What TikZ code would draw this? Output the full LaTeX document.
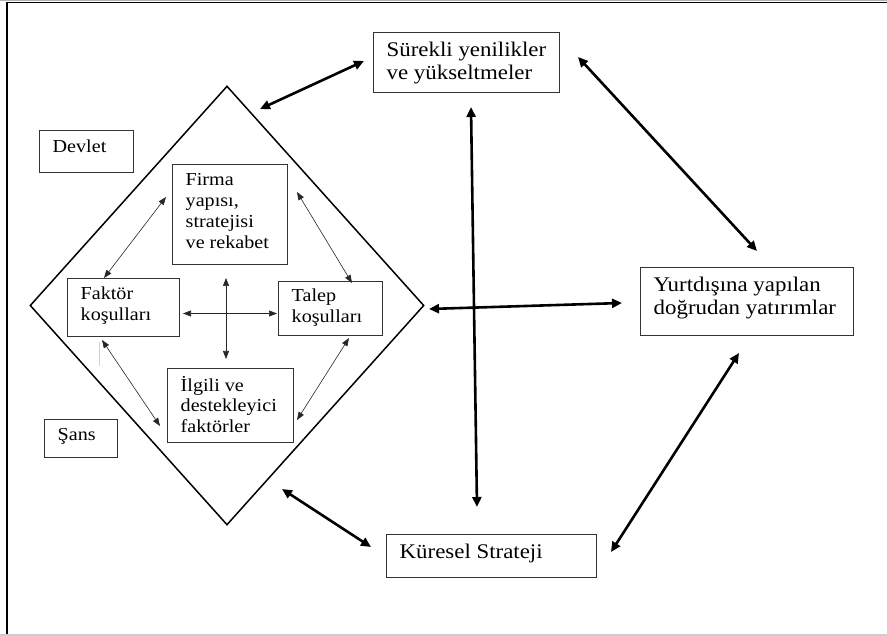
\documentclass[tikz,border=0pt]{standalone}
\usepackage{fontspec}
\setmainfont[FakeStretch=1.1]{Liberation Serif}
\usetikzlibrary{arrows.meta,shapes.geometric}
\begin{document}
\begin{tikzpicture}[x=1pt,y=-1pt,
 box/.style={draw=black!80, line width=0.9pt, inner sep=0pt, anchor=north west},
 lbl/.style={anchor=west, align=left, inner sep=0pt},
 big/.style={font=\fontsize{20.8}{22.4}\selectfont},
 small/.style={font=\fontsize{18.3}{20.8}\selectfont},
 thickarrow/.style={line width=2.6pt, {Triangle[length=10pt,width=9pt]}-{Triangle[length=10pt,width=9pt]}},
 thinarrow/.style={draw=black!85, line width=0.6pt, {Triangle[length=8pt,width=6pt]}-{Triangle[length=8pt,width=6pt]}},
]
\useasboundingbox (0,0) rectangle (887,636);
% frame
\draw[black!30, line width=0.8pt] (0,0.4) -- (887,0.4);
\draw[black, line width=1.5pt] (6,2.5) -- (887,2.5);
\draw[black, line width=2.2pt] (7,2) -- (7,636);
\draw[black!20, line width=1.6pt] (0,635) -- (887,635);

% diamond
\node[draw, diamond, line width=1.5pt, minimum width=394pt, minimum height=439pt, inner sep=0pt] (dia) at (227,305.5) {};

% boxes
\node[box, minimum width=186pt, minimum height=60pt] (sur) at (373,32) {};
\node[lbl, big] (surt) at (386.5,63) {Sürekli yenilikler\\ve yükseltmeler};

\node[box, minimum width=213pt, minimum height=68pt] (yurt) at (640,267) {};
\node[lbl, big] (yurtt) at (653.5,298) {Yurtdışına yapılan\\doğrudan yatırımlar};

\node[box, minimum width=210pt, minimum height=43pt] (kur) at (386,534) {};
\node[lbl, big] (kurt) at (399.5,553.7) {Küresel Strateji};

\node[box, minimum width=94pt, minimum height=42pt] (dev) at (39,130) {};
\node[lbl, small] (devt) at (52.5,146) {Devlet};

\node[box, minimum width=73pt, minimum height=38pt] (sans) at (44,419) {};
\node[lbl, small] (sanst) at (57.5,436.5) {Şans};

\node[box, minimum width=115pt, minimum height=100pt] (firma) at (172,164) {};
\node[lbl, small] (firmat) at (185.5,211) {Firma\\yapısı,\\stratejisi\\ve rekabet};

\node[box, minimum width=112pt, minimum height=58pt] (fak) at (67,278) {};
\node[lbl, small] (fakt) at (80.5,305.7) {Faktör\\koşulları};

\node[box, minimum width=104pt, minimum height=54pt] (tal) at (278,281) {};
\node[lbl, small] (talt) at (291.5,308) {Talep\\koşulları};

\node[box, minimum width=126pt, minimum height=74pt] (ilg) at (167,368) {};
\node[lbl, small] (ilgt) at (180.5,404.5) {İlgili ve\\destekleyici\\faktörler};

% connector end points
\coordinate (a1) at (166,197); \coordinate (a2) at (104,278);
\coordinate (b1) at (297,192); \coordinate (b2) at (352,283);
\coordinate (c1) at (183,313.5); \coordinate (c2) at (277,313.5);
\coordinate (d1) at (226,278); \coordinate (d2) at (226,359);
\coordinate (e1) at (102,340); \coordinate (e2) at (160,426);
\coordinate (f1) at (349,338); \coordinate (f2) at (297,420);

\coordinate (g1) at (260,109); \coordinate (g2) at (364,61);
\coordinate (h1) at (578,57); \coordinate (h2) at (757,251);
\coordinate (i1) at (471,107); \coordinate (i2) at (477,507);
\coordinate (j1) at (429,309); \coordinate (j2) at (622,303);
\coordinate (k1) at (739,353); \coordinate (k2) at (611,552);
\coordinate (l1) at (282,489); \coordinate (l2) at (371,547);

% thin arrows
\draw[thinarrow] (a1) -- (a2);
\draw[thinarrow] (b1) -- (b2);
\draw[thinarrow] (c1) -- (c2);
\draw[thinarrow] (d1) -- (d2);
\draw[thinarrow] (e1) -- (e2);
\draw[thinarrow] (f1) -- (f2);

% thick arrows
\draw[thickarrow] (g1) -- (g2);
\draw[thickarrow] (h1) -- (h2);
\draw[thickarrow] (i1) -- (i2);
\draw[thickarrow] (j1) -- (j2);
\draw[thickarrow] (k1) -- (k2);
\draw[thickarrow] (l1) -- (l2);

% faint stray stroke
\coordinate (m1) at (99,342); \coordinate (m2) at (99,366);
\draw[black!18, line width=0.8pt] (m1) -- (m2);
\end{tikzpicture}
\end{document}
